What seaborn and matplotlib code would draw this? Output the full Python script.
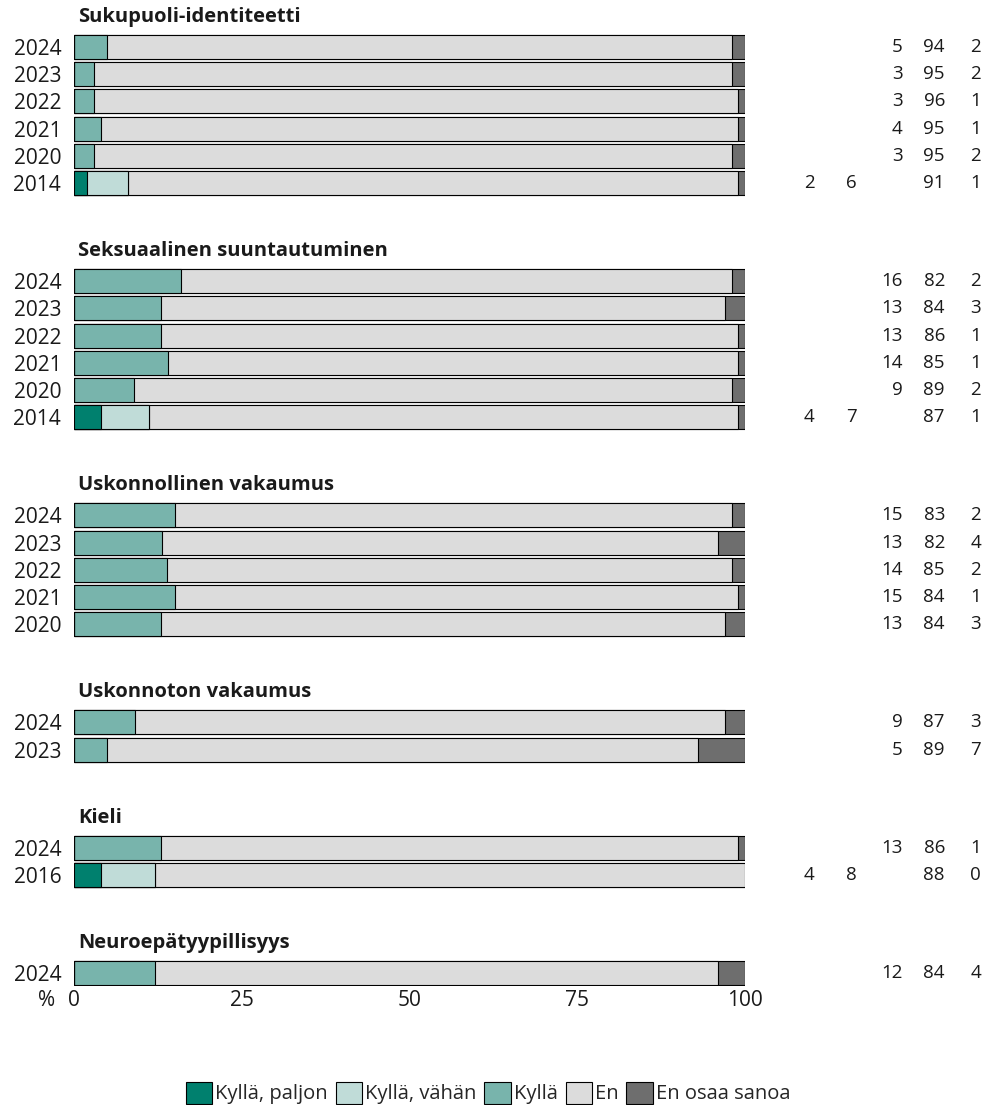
import numpy as np
import pandas as pd
import matplotlib
matplotlib.use("Agg")
import matplotlib.pyplot as plt
from matplotlib.patches import Patch
import seaborn as sns

# ---- data -------------------------------------------------------------
groups = [
    "Sukupuoli-identiteetti",
    "Seksuaalinen suuntautuminen",
    "Uskonnollinen vakaumus",
    "Uskonnoton vakaumus",
    "Kieli",
    "Neuroepätyypillisyys",
]
years = [
    ["2024", "2023", "2022", "2021", "2020", "2014"],
    ["2024", "2023", "2022", "2021", "2020", "2014"],
    ["2024", "2023", "2022", "2021", "2020"],
    ["2024", "2023"],
    ["2024", "2016"],
    ["2024"],
]
categories = ["Kyllä, paljon", "Kyllä, vähän", "Kyllä", "En", "En osaa sanoa"]
colors = ["#00806e", "#c0dcd8", "#78b4ac", "#dcdcdc", "#6e6e6e"]

nan = np.nan
kylla_paljon = [
    [nan, nan, nan, nan, nan, 2],
    [nan, nan, nan, nan, nan, 4],
    [nan, nan, nan, nan, nan],
    [nan, nan],
    [nan, 4],
    [nan],
]
kylla_vahan = [
    [nan, nan, nan, nan, nan, 6],
    [nan, nan, nan, nan, nan, 7],
    [nan, nan, nan, nan, nan],
    [nan, nan],
    [nan, 8],
    [nan],
]
kylla = [
    [5, 3, 3, 4, 3, nan],
    [16, 13, 13, 14, 9, nan],
    [15, 13, 14, 15, 13],
    [9, 5],
    [13, nan],
    [12],
]
en = [
    [94, 95, 96, 95, 95, 91],
    [82, 84, 86, 85, 89, 87],
    [83, 82, 85, 84, 84],
    [87, 89],
    [86, 88],
    [84],
]
en_osaa = [
    [2, 2, 1, 1, 2, 1],
    [2, 3, 1, 1, 2, 1],
    [2, 4, 2, 1, 3],
    [3, 7],
    [1, 0],
    [4],
]

# ---- layout of rows ---------------------------------------------------
group_gap = 3.6      # distance from a group's last bar to the next group's first bar
title_offset = 1.1   # group title sits this far above its first bar

rows = []
titles = []
start = 0.0
for g, name in enumerate(groups):
    titles.append((name, start - title_offset))
    for i, yr in enumerate(years[g]):
        rows.append({
            "group": name,
            "year": yr,
            "pos": start + i,
            categories[0]: kylla_paljon[g][i],
            categories[1]: kylla_vahan[g][i],
            categories[2]: kylla[g][i],
            categories[3]: en[g][i],
            categories[4]: en_osaa[g][i],
        })
    start = start + len(years[g]) - 1 + group_gap

df = pd.DataFrame(rows)
vals = df[categories].fillna(0.0)
share = vals.div(vals.sum(axis=1), axis=0) * 100
cum = share.cumsum(axis=1)
for c in categories:
    df["cum_" + c] = cum[c]

# ---- figure -----------------------------------------------------------
sns.set_theme(style="white")
plt.rcParams["font.family"] = ["Open Sans", "DejaVu Sans"]
FS_NUM = 13.5
FS_AXIS = 15
FS_TITLE = 14.5
FS_LEG = 14.5
TXT = "#1a1a1a"

fig = plt.figure(figsize=(9.88, 11.05), dpi=100)
ax = fig.add_axes([74 / 988, 1 - 986 / 1105, (745 - 74) / 988, 986 / 1105])

# stacked bars: widest cumulative layer first, narrower layers on top
for c, col in reversed(list(zip(categories, colors))):
    sns.barplot(
        data=df, x="cum_" + c, y="pos", orient="h", native_scale=True,
        color=col, saturation=1, edgecolor="black", linewidth=0.8,
        width=0.88, errorbar=None, ax=ax,
    )

ax.set_xlim(0, 100)
last_pos = df["pos"].max()
ax.set_ylim(last_pos + 0.48, -1.72)

ax.set_yticks(df["pos"], df["year"])
ax.set_xticks([0, 25, 50, 75, 100], ["0", "25", "50", "75", "100"])
ax.tick_params(axis="y", length=0, pad=9.2, labelsize=FS_AXIS, colors=TXT)
ax.tick_params(axis="x", length=0, pad=3, labelsize=FS_AXIS, colors=TXT)
ax.set_xlabel("")
ax.set_ylabel("")
for s in ax.spines.values():
    s.set_visible(False)

ax.annotate("%", xy=(-2.8, 0), xycoords=("data", "axes fraction"),
            xytext=(0, -3), textcoords="offset points",
            ha="right", va="top", fontsize=FS_AXIS, color=TXT)

# group titles
for name, y in titles:
    ax.text(0.6, y, name, fontsize=FS_TITLE, fontweight="bold", va="center",
            ha="left", color=TXT)

# value columns at the right
col_x = [110.4, 116.7, 123.5, 129.8, 135.2]
for _, r in df.iterrows():
    for c, x in zip(categories, col_x):
        v = r[c]
        if pd.notna(v):
            ax.text(x, r["pos"], f"{int(v)}", ha="right", va="center",
                    fontsize=FS_NUM, color=TXT, clip_on=False)

# legend
handles = [Patch(facecolor=col, edgecolor="black", linewidth=0.8, label=c)
           for c, col in zip(categories, colors)]
fig.legend(handles=handles, loc="center", bbox_to_anchor=(488 / 988, 1 - 1093 / 1105),
           ncol=5, frameon=False, fontsize=FS_LEG, handlelength=1.3, handleheight=1.3,
           handletextpad=0.15, columnspacing=0.4, borderaxespad=0, borderpad=0)

fig.savefig("out.png", dpi=100, facecolor="white")
